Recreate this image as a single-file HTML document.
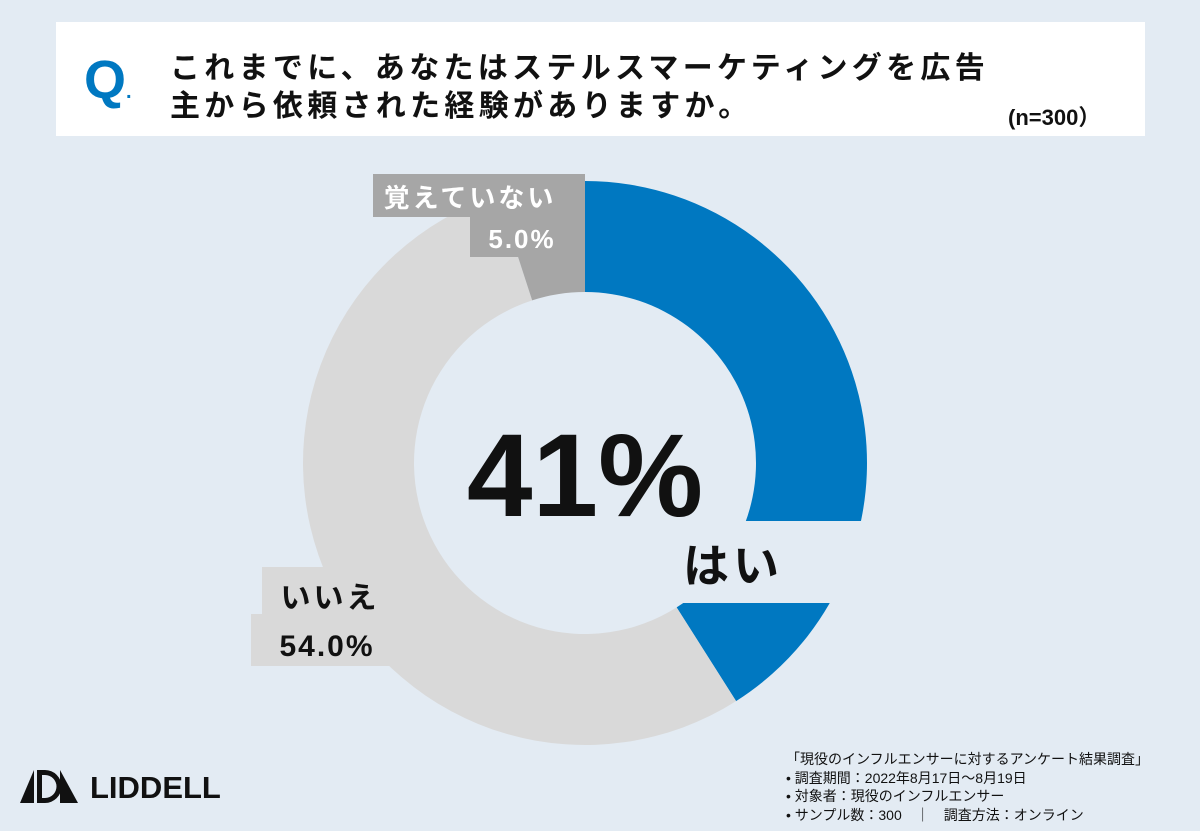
<!DOCTYPE html>
<html><head><meta charset="utf-8">
<style>
html,body{margin:0;padding:0;}
body{width:1200px;height:831px;background:#e3ebf3;position:relative;overflow:hidden;font-family:"Liberation Sans","Noto Sans CJK JP",sans-serif;}
.qbox{position:absolute;left:56px;top:22px;width:1089px;height:114px;background:#fff;}
.q{position:absolute;left:84px;top:50px;font-size:54px;font-weight:bold;color:#0078c1;line-height:60px;}
.title{position:absolute;left:170px;top:50px;font-size:30px;font-weight:bold;line-height:38px;letter-spacing:4.3px;color:#111;}
.n{position:absolute;left:1008px;top:100px;font-size:22px;font-weight:bold;color:#111;}
.foot{position:absolute;left:786px;top:750px;font-size:14px;line-height:18.5px;color:#111;}
.logo{position:absolute;left:90px;top:770px;font-size:31px;font-weight:bold;color:#111;letter-spacing:0px;}
</style></head><body>
<div class="qbox"></div>
<div class="q">Q<span style="font-size:20px">.</span></div>
<div class="title">これまでに、あなたはステルスマーケティングを広告<br>主から依頼された経験がありますか。</div>
<div class="n">(n=300）</div>
<svg id="chart" width="1200" height="831" style="position:absolute;left:0;top:0"></svg>
<svg width="70" height="40" style="position:absolute;left:20px;top:770px">
<polygon points="0,33 14,0 14,33" fill="#111"/>
<path d="M17,0 h8 a16,16 0 0 1 0,33 h-8 Z M22,5 v23 h3 a11,11 0 0 0 0,-23 Z" fill="#111"/>
<polygon points="40,0 58,33 40,33" fill="#111"/>
</svg>
<div class="logo">LIDDELL</div>
<div class="foot">「現役のインフルエンサーに対するアンケート結果調査」<br>• 調査期間：2022年8月17日～8月19日<br>• 対象者：現役のインフルエンサー<br>• サンプル数：300　｜　調査方法：オンライン</div>
<script>
const categories = ["はい","いいえ","覚えていない"];
const values = [41, 54, 5];
const colors = ["#0078c1","#d9d9d9","#a6a6a6"];
const svg = document.getElementById('chart');
const NS = "http://www.w3.org/2000/svg";
const cx = 585, cy = 463, R = 282, r = 171;
const total = values.reduce((a,b)=>a+b,0);
function pt(rad, frac){const a = frac*2*Math.PI; return [cx+rad*Math.sin(a), cy-rad*Math.cos(a)];}
function mk(tag, attrs){const e=document.createElementNS(NS,tag);for(const k in attrs)e.setAttribute(k,attrs[k]);svg.appendChild(e);return e;}
let acc = 0;
values.forEach((v,i)=>{
  const f0 = acc/total, f1 = (acc+v)/total; acc += v;
  const [x0,y0]=pt(R,f0),[x1,y1]=pt(R,f1),[x2,y2]=pt(r,f1),[x3,y3]=pt(r,f0);
  const large = (f1-f0)>0.5?1:0;
  const p = mk('path',{d:`M${x0},${y0} A${R},${R} 0 ${large} 1 ${x1},${y1} L${x2},${y2} A${r},${r} 0 ${large} 0 ${x3},${y3} Z`,fill:colors[i]});
  
  
});
const b1 = mk('rect',{x:586,y:521,width:300,height:82,fill:"#e3ebf3"});


const b2 = mk('rect',{x:373,y:174,width:212,height:43,fill:"#a6a6a6"});


const b3 = mk('rect',{x:470,y:217,width:115,height:40,fill:"#a6a6a6"});


const b4 = mk('rect',{x:262,y:567,width:130,height:50,fill:"#d9d9d9"});


const b5 = mk('rect',{x:251,y:614,width:141,height:52,fill:"#d9d9d9"});


function txt(x,y,s,size,fill,anchor,name,ls){const t=mk('text',{x:x,y:y,'font-size':size,'font-weight':'bold',fill:fill,'text-anchor':anchor||'start','font-family':'"Liberation Sans","Noto Sans CJK JP",sans-serif','letter-spacing':ls||0});t.textContent=s;

return t;}
txt(585,516,Math.round(values[0])+"%",118,"#111","middle","center-value");
txt(733,582,categories[0],46,"#111","middle","hai-label",4);
txt(470,207,categories[2],26,"#fff","middle","oboete-label",3);
txt(522,248,values[2].toFixed(1)+"%",26,"#fff","middle","oboete-value",2);
txt(330,608,categories[1],30,"#111","middle","iie-label",3);
txt(327,656,values[1].toFixed(1)+"%",30,"#111","middle","iie-value",2);
</script>
</body></html>
